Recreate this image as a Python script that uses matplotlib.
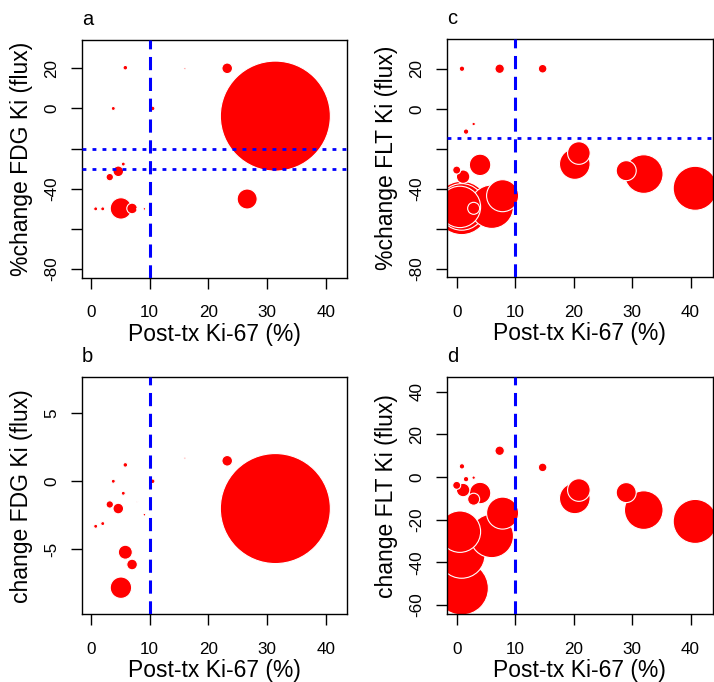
import numpy as np
import matplotlib
matplotlib.use("Agg")
import matplotlib.pyplot as plt

plt.rcParams['font.family'] = ['Liberation Sans', 'DejaVu Sans']
plt.rcParams['lines.scale_dashes'] = False

# FDG panels (a, b): one entry per lesion
ki67_fdg = [5.85, 16.0, 23.2, 31.4, 3.8, 10.5, 5.5, 4.65, 3.2, 5.1, 7.0, 7.9, 9.1, 0.8, 2.0, 26.6, 5.85]
pct_fdg = [20.3, 20, 20, -3.8, 0, 0, -27.7, -31.3, -34.2, -49.8, -49.8, -50, -50, -50, -50, -45.1, np.nan]
abs_fdg = [1.2, 1.7, 1.5, -2.0, 0, 0, -0.88, -2.0, -1.7, -7.8, -6.1, -1.5, -2.45, -3.3, -3.1, np.nan, -5.2]
size_fdg = [2.3, 1.0, 5.3, 55, 2.0, 2.3, 2.0, 5.3, 3.7, 10.7, 5.3, 0.7, 1.3, 2.0, 2.0, 10, 7.0]

# FLT panels (c, d)
ki67_flt = [0.9, 7.35, 14.7, 2.9, 1.6, 4.0, 0.0, 1.1, 2.9, 7.85, 6.0, 0.85, 0.85, 0.55, 20.2, 20.9, 29.0, 32.0, 40.8]
pct_flt = [20, 20, 20, -7.6, -11.4, -28.0, -30.6, -33.9, -49.7, -43.4, -48.9, -49.0, -49.5, -49.0, -27.6, -22.1, -30.9, -32.6, -39.7]
abs_flt = [5.0, 12.3, 4.5, -0.3, -1.0, -7.5, -3.9, -6.1, -10.4, -16.9, -27.6, -36.5, -52.1, -25.6, -10.0, -6.1, -7.3, -15.5, -20.8]
size_flt = [2.7, 4.7, 4.3, 1.7, 2.7, 10.7, 4.0, 6.7, 6.0, 16.0, 21.7, 23.3, 26.7, 20.7, 15.3, 11.3, 10.0, 19.3, 22.0]

W, H = 714, 682
fig = plt.figure(figsize=(W / 100, H / 100), dpi=100)


def panel(box, x, y, size, xlim, ylim, yticks, ylabels, ylab, letter, hlines):
    l, t, r, b = box
    ax = fig.add_axes([l / W, 1 - b / H, (r - l) / W, (b - t) / H])
    x = np.asarray(x)
    y = np.asarray(y, dtype=float)
    size = np.asarray(size)
    order = np.argsort(-size)
    ax.scatter(x[order], y[order], s=(2 * size[order] * 0.72) ** 2,
               c='red', edgecolors='white', linewidths=0.8, zorder=2)
    ax.axvline(10, color='blue', lw=2.2, dashes=(9.5, 5.5), zorder=3)
    for h in hlines:
        ax.axhline(h, color='blue', lw=2.0, dashes=(2.8, 4.4), zorder=3)
    ax.set_xlim(xlim)
    ax.set_ylim(ylim)
    ax.set_xticks([0, 10, 20, 30, 40])
    ax.set_yticks(yticks)
    ax.set_yticklabels(ylabels, rotation=90, va='center')
    ax.tick_params(length=8, width=1, labelsize=12.3)
    ax.tick_params(axis='x', pad=12)
    ax.tick_params(axis='y', pad=8)
    for s in ax.spines.values():
        s.set_linewidth(1)
    ax.set_xlabel('Post-tx Ki-67 (%)', fontsize=16.5)
    ax.xaxis.set_label_coords(0.5, -45 / (b - t))
    ax.xaxis.label.set_va('top')
    ax.set_ylabel(ylab, fontsize=16.5)
    ax.yaxis.set_label_coords(-49 / (r - l), 0.5)
    ax.text(0, 1 + 15 / (b - t), letter, transform=ax.transAxes, fontsize=14.5,
            ha='left', va='baseline')
    return ax


panel((81.7, 40, 347, 277.7), ki67_fdg, pct_fdg, size_fdg, (-1.58, 43.6), (-84.3, 34.1),
      [20, 0, -20, -40, -60, -80], ['20', '0', '', '-40', '', '-80'],
      '%change FDG Ki (flux)', 'a', [-20, -30])
panel((81.7, 377.3, 347, 614.3), ki67_fdg, abs_fdg, size_fdg, (-1.58, 43.6), (-9.75, 7.62),
      [5, 0, -5], ['5', '0', '-5'],
      'change FDG Ki (flux)', 'b', [])
panel((446.7, 39.3, 712.5, 277), ki67_flt, pct_flt, size_flt, (-1.71, 43.76), (-84.0, 34.7),
      [20, 0, -20, -40, -60, -80], ['20', '0', '', '-40', '', '-80'],
      '%change FLT Ki (flux)', 'c', [-14.75])
panel((446.7, 377.3, 712.5, 614.3), ki67_flt, abs_flt, size_flt, (-1.71, 43.76), (-64.3, 46.7),
      [40, 20, 0, -20, -40, -60], ['40', '20', '0', '-20', '-40', '-60'],
      'change FLT Ki (flux)', 'd', [])

fig.savefig('out.png', dpi=100)
